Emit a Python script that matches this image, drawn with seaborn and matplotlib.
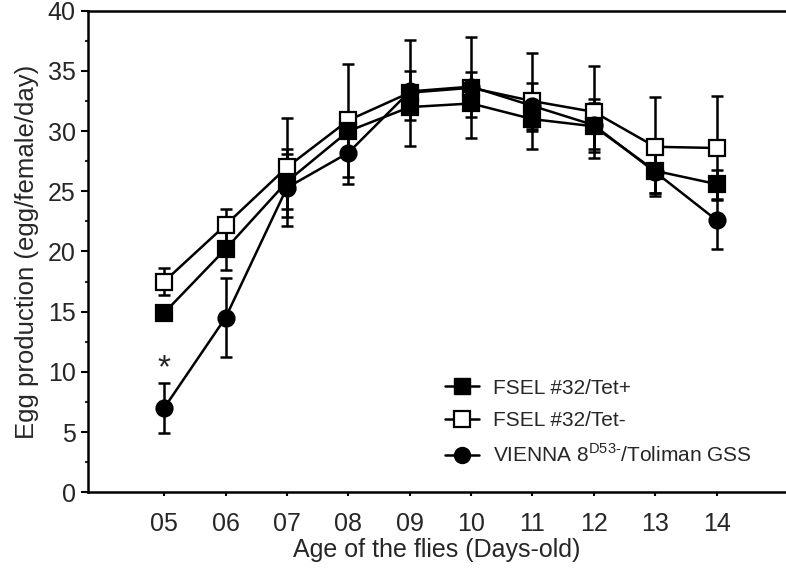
import numpy as np
import pandas as pd
import seaborn as sns
import matplotlib.pyplot as plt
from matplotlib.ticker import MultipleLocator
from matplotlib.lines import Line2D

days = [5, 6, 7, 8, 9, 10, 11, 12, 13, 14]
day_labels = ['05', '06', '07', '08', '09', '10', '11', '12', '13', '14']

tet_plus = [14.9, 20.2, 25.8, 30.0, 32.0, 32.3, 31.0, 30.4, 26.7, 25.6]
tet_plus_err = [0.3, 1.7, 2.3, 1.5, 1.1, 1.1, 1.0, 1.9, 1.8, 1.2]

tet_minus = [17.5, 22.2, 27.0, 30.9, 33.2, 33.6, 32.5, 31.6, 28.7, 28.6]
tet_minus_err = [1.1, 1.3, 4.1, 4.7, 4.4, 4.2, 4.0, 3.8, 4.1, 4.3]

vienna = [7.0, 14.5, 25.3, 28.2, 33.3, 33.7, 32.1, 30.5, 26.6, 22.6]
vienna_err = [2.1, 3.3, 3.2, 2.6, 1.7, 1.2, 1.9, 2.2, 1.7, 2.4]

labels = ['FSEL #32/Tet+', 'FSEL #32/Tet-',
          'VIENNA 8$^{\\mathregular{D53\u2010}}$/Toliman GSS']

sns.set_style("ticks")
plt.rcParams['font.family'] = ['Liberation Sans', 'DejaVu Sans']

fig = plt.figure(figsize=(7.86, 5.69), dpi=100)
ax = fig.add_axes([0.112, 0.135, 0.888, 0.846])

series = [
    (tet_minus, tet_minus_err, 's', 'white'),
    (tet_plus, tet_plus_err, 's', 'black'),
    (vienna, vienna_err, 'o', 'black'),
]

for vals, errs, mk, fc in series:
    ax.errorbar(days, vals, yerr=errs, fmt='none', ecolor='black',
                elinewidth=1.8, capsize=4, capthick=1.8, zorder=2)
    df = pd.DataFrame({'day': days, 'eggs': vals})
    sns.lineplot(data=df, x='day', y='eggs', ax=ax, color='black',
                 linewidth=1.8, marker=mk, markersize=11.5,
                 markerfacecolor=fc, markeredgecolor='black',
                 markeredgewidth=1.6, zorder=3)

ax.text(5, 9.0, '*', ha='center', va='bottom', fontsize=24)

ax.set_xlim(3.76, 15.13)
ax.set_ylim(0, 40)
ax.set_xticks(days)
ax.set_xticklabels(day_labels)
ax.yaxis.set_major_locator(MultipleLocator(5))
ax.yaxis.set_minor_locator(MultipleLocator(2.5))
ax.tick_params(axis='both', which='major', labelsize=18, width=1.5,
               direction='out', color='black')
ax.tick_params(axis='y', which='major', length=5, pad=4)
ax.tick_params(axis='y', which='minor', width=1.5, length=2.5)
ax.tick_params(axis='x', which='major', length=3, pad=11)

ax.spines['right'].set_visible(False)
for s in ['left', 'bottom', 'top']:
    ax.spines[s].set_linewidth(1.8)
    ax.spines[s].set_color('black')

ax.set_xlabel('Age of the flies (Days-old)', fontsize=18, labelpad=2)
ax.set_ylabel('Egg production (egg/female/day)', fontsize=18.5, labelpad=6)

handles = [
    Line2D([], [], color='black', lw=1.8, marker='s', markersize=11.5,
           markerfacecolor='black', markeredgecolor='black'),
    Line2D([], [], color='black', lw=1.8, marker='s', markersize=11.5,
           markerfacecolor='white', markeredgecolor='black',
           markeredgewidth=1.6),
    Line2D([], [], color='black', lw=1.8, marker='o', markersize=11.5,
           markerfacecolor='black', markeredgecolor='black'),
]
ax.legend(handles, labels, loc='lower left', bbox_to_anchor=(0.485, 0.015),
          frameon=False, fontsize=15, handlelength=1.6, handletextpad=0.7,
          labelspacing=0.65)

fig.savefig('out.png', dpi=100)
